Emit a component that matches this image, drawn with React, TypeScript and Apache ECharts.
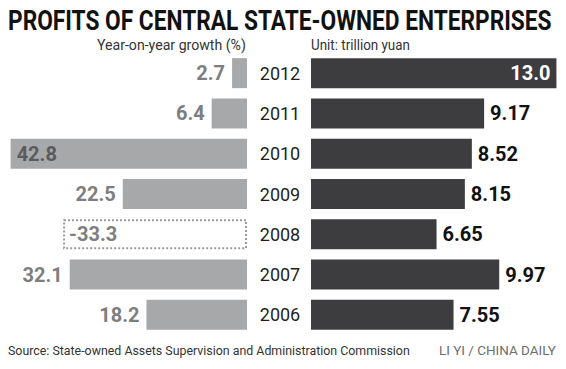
import React, { useEffect, useRef } from "react";
import * as echarts from "echarts";

const years = ["2012", "2011", "2010", "2009", "2008", "2007", "2006"];
const growth = [2.7, 6.4, 42.8, 22.5, -33.3, 32.1, 18.2];
const profits = [13.0, 9.17, 8.52, 8.15, 6.65, 9.97, 7.55];
const profitLabels = ["13.0", "9.17", "8.52", "8.15", "6.65", "9.97", "7.55"];

const TITLE = "PROFITS OF CENTRAL STATE-OWNED ENTERPRISES";
const SUB_LEFT = "Year-on-year growth (%)";
const SUB_RIGHT = "Unit: trillion yuan";
const SOURCE = "Source: State-owned Assets Supervision and Administration Commission";
const CREDIT = "LI YI / CHINA DAILY";
const FONT = "Roboto, 'Liberation Sans', sans-serif";

function measure(text: string, font: string): number {
  const c = document.createElement("canvas");
  const ctx = c.getContext("2d");
  if (!ctx) return 600;
  ctx.font = font;
  return ctx.measureText(text).width;
}

function fitText(text: string, x: number, y: number, w: number, size: number, weight: string, fill: string) {
  const mw = measure(text, `${weight} ${size}px Roboto`);
  return {
    type: "text",
    x,
    y,
    scaleX: w / mw,
    style: { text, fontFamily: FONT, fontWeight: weight, fontSize: size, fill },
  };
}

export default function App() {
  const ref = useRef<HTMLDivElement>(null);
  useEffect(() => {
    if (!ref.current) return;
    const chart = echarts.init(ref.current, undefined, { renderer: "svg" });

    const leftData = growth.map((v) => {
      const big = Math.abs(v) > 40;
      const neg = v < 0;
      return {
        value: Math.abs(v),
        itemStyle: neg
          ? { color: "#ffffff", borderColor: "#9a9b9d", borderType: "dotted", borderWidth: 2 }
          : { color: "#a7a8aa" },
        label: {
          position: big || neg ? "insideLeft" : "left",
          distance: big || neg ? 6 : 7,
          color: big ? "#5a5b5d" : "#7d7e80",
        },
      };
    });
    const rightData = profits.map((v, i) => ({
      value: v,
      label: {
        position: v > 12 ? "insideRight" : "right",
        color: v > 12 ? "#ffffff" : "#111111",
        formatter: profitLabels[i],
      },
    }));

    chart.setOption({
      animation: false,
      backgroundColor: "#ffffff",
      grid: [
        { left: 4, top: 53, width: 243, height: 282 },
        { left: 311, top: 53, width: 249.2, height: 282 },
      ],
      xAxis: [
        { gridIndex: 0, type: "value", inverse: true, min: 0, max: 44, show: false },
        { gridIndex: 1, type: "value", min: 0, max: 13.2, show: false },
      ],
      yAxis: [
        { gridIndex: 0, type: "category", data: years, inverse: true, show: false },
        {
          gridIndex: 1,
          type: "category",
          data: years,
          inverse: true,
          axisLine: { show: false },
          axisTick: { show: false },
          axisLabel: {
            margin: 31,
            align: "center",
            fontFamily: FONT,
            fontSize: 18,
            color: "#231f20",
          },
        },
      ],
      series: [
        {
          type: "bar",
          xAxisIndex: 0,
          yAxisIndex: 0,
          barWidth: 30,
          data: leftData,
          label: {
            show: true,
            fontFamily: FONT,
            fontWeight: "bold",
            fontSize: 20,
            formatter: (p: any) => String(growth[p.dataIndex]),
          },
        },
        {
          type: "bar",
          xAxisIndex: 1,
          yAxisIndex: 1,
          barWidth: 30,
          data: rightData,
          itemStyle: { color: "#3d3c3e" },
          label: {
            show: true,
            distance: 6,
            fontFamily: FONT,
            fontWeight: "bold",
            fontSize: 20,
          },
        },
      ],
      graphic: [
        fitText(TITLE, 8, 6, 544, 28, "bold", "#111111"),
        fitText(SUB_LEFT, 97, 38, 149, 14, "normal", "#333333"),
        fitText(SUB_RIGHT, 311, 38, 99, 14, "normal", "#333333"),
        fitText(SOURCE, 8, 344, 402, 13, "normal", "#333333"),
        fitText(CREDIT, 439, 344, 117, 13, "normal", "#6d6e70"),
      ],
    });
    return () => chart.dispose();
  }, []);
  return (
    <div
      ref={ref}
      style={{ position: "fixed", left: 0, top: 0, width: 566, height: 369, background: "#fff" }}
    />
  );
}
